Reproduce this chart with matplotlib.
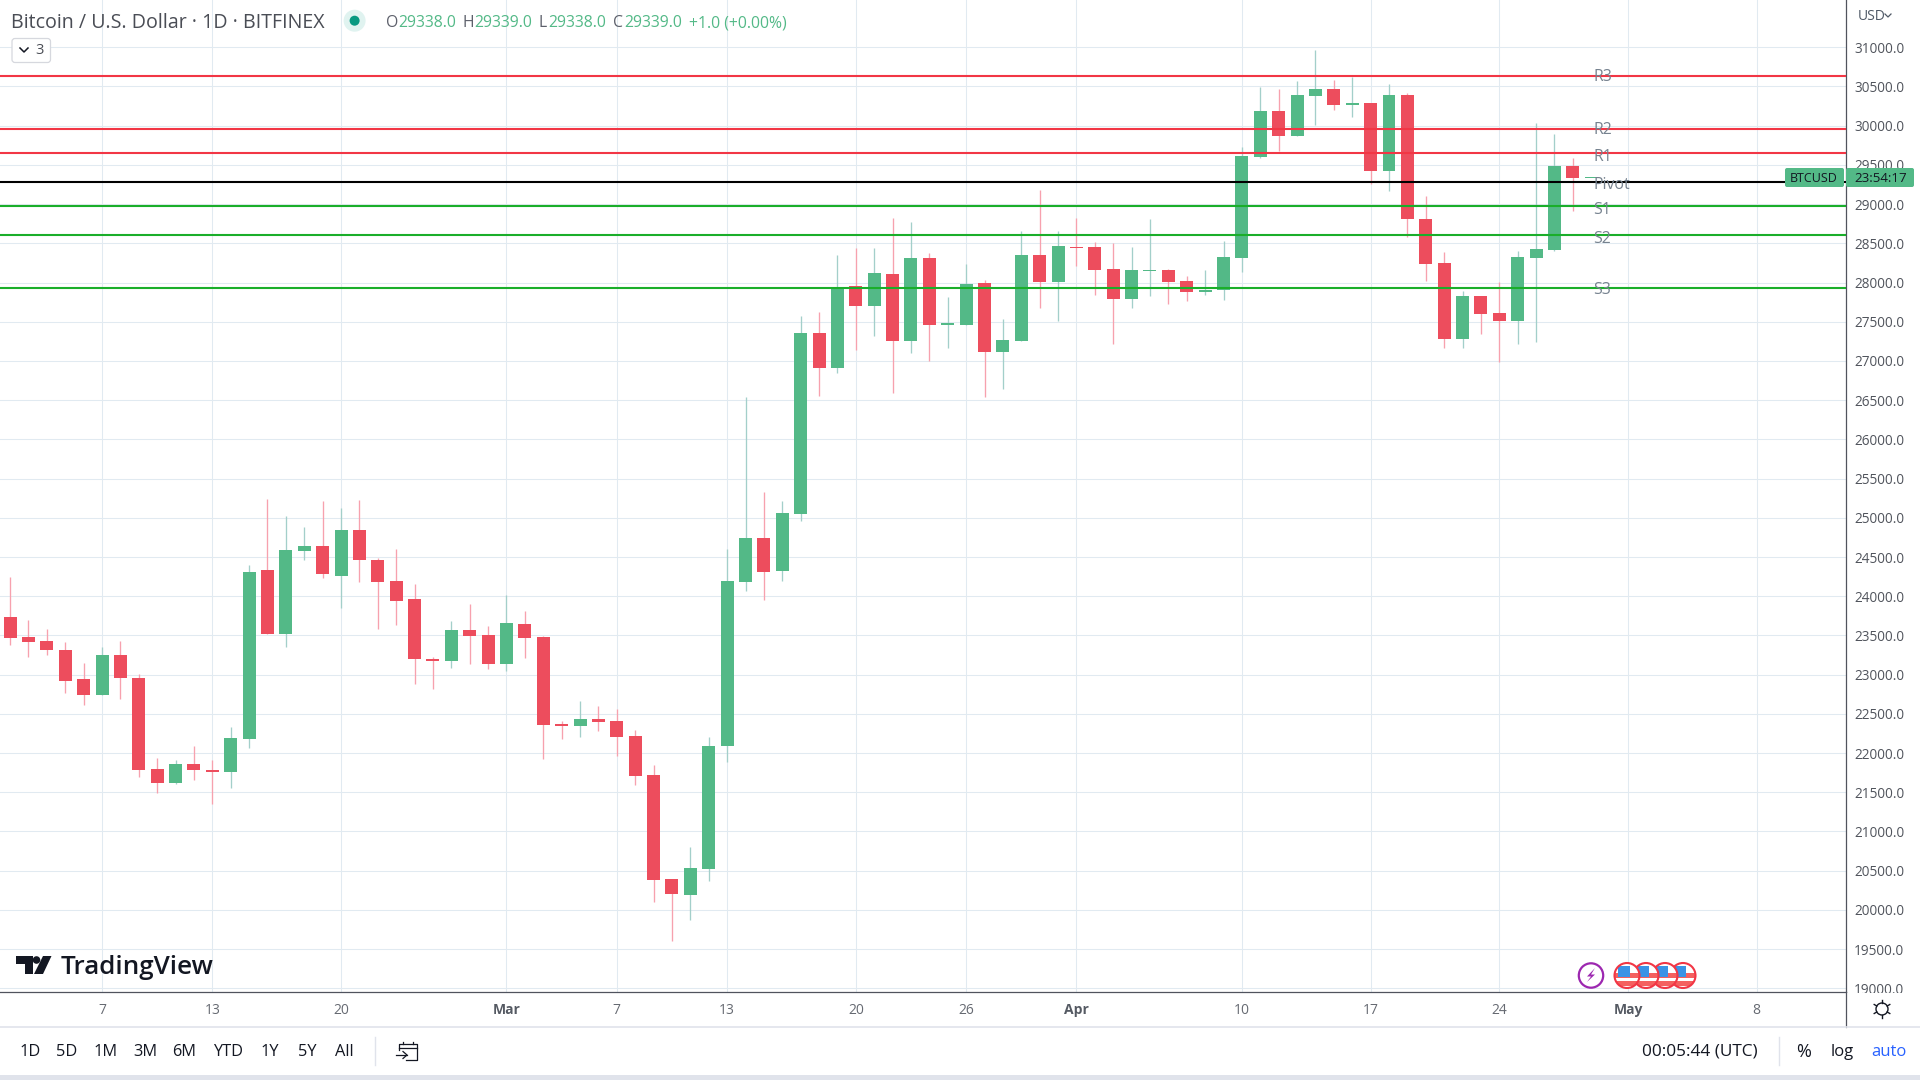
import matplotlib
matplotlib.use("Agg")
import matplotlib.pyplot as plt
from matplotlib.patches import Rectangle, Circle, FancyBboxPatch, Polygon
import numpy as np

plt.rcParams['font.family'] = ['Open Sans', 'DejaVu Sans']

# daily candles, index 0 = 2 Feb
opens = [23729, 23486, 23435, 23320, 22938, 22746, 23244, 22963, 21802, 21624,
         21866, 21790, 21764, 22185, 24328, 23512, 24571, 24634, 24264, 24838,
         24468, 24196, 23966, 23201, 23175, 23571, 23507, 23137, 23647, 23481,
         22371, 22346, 22435, 22410, 22218, 21721, 20394, 20190, 20522, 22091,
         24177, 24739, 24318, 25045, 27354, 26910, 27956, 27700, 28109, 27254,
         28313, 27458, 27458, 27994, 27114, 27254, 28351, 28007, 28453, 28453,
         28172, 27790, 28147, 28160, 28019, 27879, 27905, 28313, 29601, 30188,
         29869, 30379, 30468, 30264, 30290, 29423, 30392, 28810, 28249, 27279,
         27828, 27611, 27509, 28313, 28415, 29486, 29338]
closes = [23473, 23422, 23308, 22925, 22746, 23244, 22951, 21790, 21624, 21866,
          21790, 21764, 22198, 24315, 23512, 24583, 24634, 24277, 24838, 24456,
          24175, 23940, 23201, 23175, 23571, 23494, 23137, 23660, 23468, 22359,
          22346, 22435, 22397, 22206, 21708, 20382, 20203, 20535, 22091, 24196,
          24739, 24305, 25058, 27354, 26907, 27943, 27700, 28121, 27254, 28313,
          27458, 27484, 27981, 27114, 27267, 28351, 28007, 28466, 28440, 28160,
          27790, 28160, 28160, 28007, 27879, 27905, 28325, 29614, 30188, 29869,
          30392, 30468, 30264, 30290, 29423, 30392, 28810, 28236, 27279, 27828,
          27598, 27509, 28325, 28427, 29486, 29333, 29339]
highs = [24239, 23703, 23576, 23422, 23142, 23346, 23435, 23002, 21943, 21905,
         22096, 21905, 22338, 24392, 25234, 25017, 24877, 25208, 25119, 25221,
         24481, 24596, 24157, 23226, 23685, 23902, 23622, 24017, 23813, 23494,
         22410, 22665, 22601, 22563, 22295, 21848, 20394, 20802, 22206, 24598,
         26537, 25325, 25211, 27573, 27622, 28351, 28440, 28440, 28823, 28772,
         28377, 27815, 28236, 28032, 27535, 28657, 29180, 28657, 28823, 28517,
         28504, 28453, 28810, 28172, 28083, 28160, 28530, 29729, 30494, 30469,
         30571, 30966, 30583, 30622, 30290, 30532, 30417, 29104, 28389, 27892,
         27828, 28007, 28402, 30035, 29895, 29588, 29339]
lows = [23384, 23231, 23244, 22772, 22619, 22746, 22695, 21700, 21496, 21611,
        21662, 21356, 21560, 22070, 23512, 23346, 24456, 24226, 23856, 24175,
        23576, 23634, 22882, 22818, 23086, 23137, 23073, 23048, 23213, 21925,
        22180, 22206, 22282, 21963, 21593, 20101, 19603, 19871, 20369, 21887,
        24063, 23948, 24190, 24956, 26550, 26846, 27139, 27318, 26591, 27101,
        26999, 27165, 27458, 26540, 26642, 27254, 27675, 27509, 28211, 27841,
        27216, 27675, 27828, 27726, 27764, 27841, 27777, 28134, 29589, 29678,
        29869, 30009, 30201, 30111, 29261, 29167, 28581, 28019, 27165, 27165,
        27343, 26986, 27216, 27241, 28402, 28912, 29338]

level_names = ['R3', 'R2', 'R1', 'Pivot', 'S1', 'S2', 'S3']
level_values = [30634, 29958, 29652, 29282, 28976, 28606, 27930]
level_colors = ['#f23645', '#f23645', '#f23645', '#000000', '#1aae2a', '#1aae2a', '#1aae2a']
level_label_prices = [30624, 29950, 29600, 29242, 28930, 28558, 27905]

date_ticks = [5, 11, 18, 27, 33, 39, 46, 52, 58, 67, 74, 81, 88, 95]
date_labels = ['7', '13', '20', 'Mar', '7', '13', '20', '26', 'Apr', '10', '17', '24', 'May', '8']
price_ticks = list(range(19000, 31500, 500))

range_buttons = ['1D', '5D', '1M', '3M', '6M', 'YTD', '1Y', '5Y', 'All']
range_x = [30, 67, 106, 145, 184, 228, 270, 307, 344]

GREEN = '#53b987'
RED = '#ed4d5d'
GRID = '#e1eaf1'
AXIS = '#50535e'

fig = plt.figure(figsize=(19.2, 10.8), dpi=100, facecolor='white')
ax = fig.add_axes([0, (1080 - 992.3) / 1080, 1845.7 / 1920, 992.3 / 1080])
ax.set_xlim(-0.548, 99.84)
ax.set_ylim(18949, 31603)

ax.set_axisbelow(True)
ax.grid(True, color=GRID, linewidth=0.75)
ax.set_xticks(date_ticks)
ax.set_xticklabels(date_labels)
ax.set_yticks(price_ticks)
ax.set_yticklabels(['%.1f' % p for p in price_ticks])
ax.yaxis.tick_right()
ax.tick_params(axis='y', length=0, pad=6, labelsize=9.8, labelcolor='#50545c')
ax.tick_params(axis='x', length=0, pad=8, labelsize=10, labelcolor='#666a72')
for lab in ax.get_xticklabels():
    if lab.get_text() in ('Mar', 'Apr', 'May'):
        lab.set_fontweight('bold')
        lab.set_color('#555a63')
for s in ('top', 'left'):
    ax.spines[s].set_visible(False)
for s in ('right', 'bottom'):
    ax.spines[s].set_color(AXIS)
    ax.spines[s].set_linewidth(0.9)

idx = np.arange(len(opens))
o = np.array(opens)
c = np.array(closes)
up = c >= o
wick_cols = ['#a3cfca' if u else '#f7a1ae' for u in up]
ax.vlines(idx, lows, highs, colors=wick_cols, linewidth=0.95, zorder=2)
body_cols = [GREEN if u else RED for u in up]
ax.bar(idx, np.maximum(np.abs(c - o), 12), bottom=np.minimum(o, c), width=0.707,
       color=body_cols, linewidth=0, zorder=3)

for name, val, col, lp in zip(level_names, level_values, level_colors, level_label_prices):
    ax.axhline(val, color=col, linewidth=1.5, zorder=4)
    ax.text(86.1, lp, name, color='#76828f', fontsize=11.4, va='center', ha='left', zorder=5)

# page chrome on top, in pixel coordinates
ui = fig.add_axes([0, 0, 1, 1], zorder=5)
ui.set_xlim(0, 1920)
ui.set_ylim(1080, 0)
ui.axis('off')
ui.patch.set_alpha(0)

ui.add_patch(Rectangle((1847, 993), 73, 33.5, fc='white', ec='none'))
ui.plot([1845.7, 1845.7], [992, 1026.5], color=AXIS, lw=0.9)
ui.plot([0, 1920], [1026.7, 1026.7], color='#e0e3eb', lw=1.2)
ui.add_patch(Rectangle((0, 1075), 1920, 5, fc='#e0e3eb', ec='none'))

# header
ui.text(11, 23, 'Bitcoin / U.S. Dollar · 1D · BITFINEX', color='#4a4d55', fontsize=14.1, va='center')
ui.add_patch(Circle((354.6, 20.7), 11, fc='#e0f3f0', ec='none'))
ui.add_patch(Circle((354.6, 20.7), 5, fc='#089981', ec='none'))
for x, t in zip([386, 462, 539, 613], ['O', 'H', 'L', 'C']):
    ui.text(x, 23, t, color='#5d606b', fontsize=11.3, va='center')
for x, t in zip([398, 474.5, 548.5, 624.5, 688.8],
                ['29338.0', '29339.0', '29338.0', '29339.0', '+1.0 (+0.00%)']):
    ui.text(x, 23, t, color=GREEN, fontsize=11.3, va='center')
ui.add_patch(FancyBboxPatch((12, 38.5), 38.5, 24, boxstyle='round,pad=0,rounding_size=3',
                            fc='white', ec='#d6d8de', lw=0.9))
ui.plot([20, 24, 28], [48, 52, 48], color='#131722', lw=1.1)
ui.text(40, 50, '3', color='#4a4d55', fontsize=10.5, va='center', ha='center')

# USD unit and the price badge
ui.text(1857.7, 16, 'USD', color='#4f5966', fontsize=10, va='center')
ui.plot([1885, 1888, 1891], [14, 17, 14], color='#4f5966', lw=0.9)
ui.add_patch(FancyBboxPatch((1785, 168), 59, 19, boxstyle='round,pad=0,rounding_size=2', fc=GREEN, ec='none'))
ui.add_patch(FancyBboxPatch((1846, 168), 68, 19, boxstyle='round,pad=0,rounding_size=2', fc=GREEN, ec='none'))
ui.text(1814, 178, 'BTCUSD', color='#131722', fontsize=9, va='center', ha='center')
ui.text(1881, 178, '23:54:17', color='#131722', fontsize=9.6, va='center', ha='center')

# logo
ui.add_patch(Polygon([(15.6, 956), (33, 956), (33, 974), (24.5, 974), (24.5, 964), (15.6, 964)], fc='#131722', ec='none'))
ui.add_patch(Circle((36.5, 960), 3.8, fc='#131722', ec='none'))
ui.add_patch(Polygon([(43, 956), (51.5, 956), (43, 974), (34, 974)], fc='#131722', ec='none'))
ui.text(61, 967.5, 'TradingView', color='#131722', fontsize=18.7, fontweight='semibold', va='center')

# event markers
ui.add_patch(Circle((1591, 975.5), 12.2, fc='white', ec='#9c27b0', lw=1.6))
ui.add_patch(Polygon([(1595, 968), (1587, 976.5), (1591, 976.5), (1587, 982), (1595, 974.5), (1591, 974.5)],
                     fc='#9c27b0', ec='none'))
for fx in [1683, 1665, 1646, 1627]:
    disc = Circle((fx, 975.5), 12.5, fc='white', ec='none')
    ui.add_patch(disc)
    for r in [Rectangle((fx - 13, 973), 26, 4.7, fc='#f4605f', ec='none'),
              Rectangle((fx - 13, 981), 26, 5, fc='#f4605f', ec='none'),
              Rectangle((fx - 9, 966), 12, 10.5, fc='#3a93e6', ec='none')]:
        ui.add_patch(r)
        r.set_clip_path(disc)
    ui.add_patch(Circle((fx, 975.5), 12.5, fc='none', ec='#f23645', lw=1.5))

# settings icon
ui.add_patch(Circle((1882, 1009), 6, fc='none', ec='#131722', lw=1.0))
for a in np.deg2rad(np.arange(0, 360, 60) + 30):
    ui.plot([1882 + 6 * np.cos(a), 1882 + 9 * np.cos(a)], [1009 + 6 * np.sin(a), 1009 + 9 * np.sin(a)],
            color='#131722', lw=1.0)

# bottom toolbar
for x, t in zip(range_x, range_buttons):
    ui.text(x, 1051.5, t, color='#131722', fontsize=11.8, va='center', ha='center')
ui.plot([375, 375], [1037, 1065], color='#e0e3eb', lw=1)
ui.plot([399, 399, 417, 417, 406], [1050, 1044, 1044, 1060, 1060], color='#131722', lw=0.9)
ui.plot([399, 417], [1048, 1048], color='#131722', lw=0.9)
ui.plot([396, 407], [1055, 1055], color='#131722', lw=0.9)
ui.plot([403, 407, 403], [1051.5, 1055, 1058.5], color='#131722', lw=0.9)
ui.plot([403, 403], [1041.5, 1044], color='#131722', lw=0.9)
ui.plot([413, 413], [1041.5, 1044], color='#131722', lw=0.9)
ui.text(1641.7, 1052, '00:05:44 (UTC)', color='#131722', fontsize=12.4, va='center')
ui.plot([1779, 1779], [1037, 1065], color='#e0e3eb', lw=1)
ui.text(1804, 1052, '%', color='#131722', fontsize=13, va='center', ha='center')
ui.text(1842, 1052, 'log', color='#131722', fontsize=12, va='center', ha='center')
ui.text(1889, 1052, 'auto', color='#2962ff', fontsize=12, va='center', ha='center')

fig.savefig('out.png', dpi=100)
